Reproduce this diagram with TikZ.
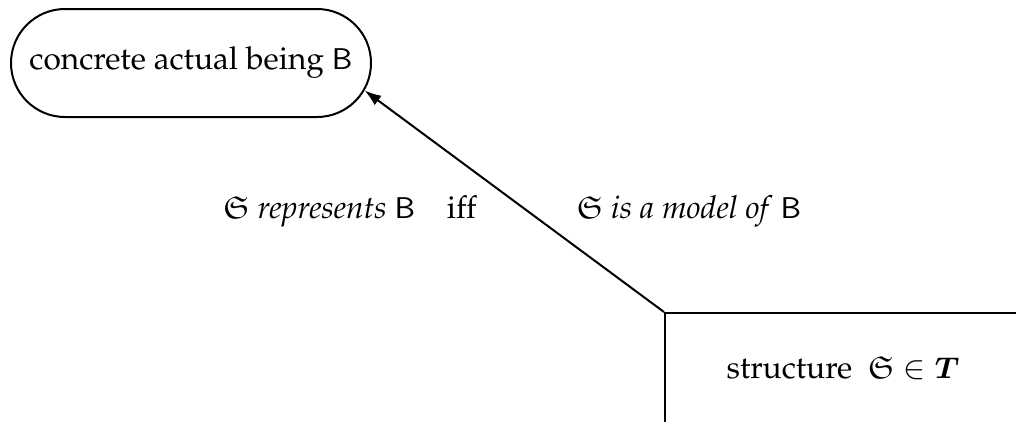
\documentclass[tikz,border=0pt]{standalone}
\usepackage{amsmath,amssymb,bm}
\usepackage[T1]{fontenc}
\usepackage{mathpazo}
\usetikzlibrary{shapes.misc,arrows.meta}
\begin{document}
\begin{tikzpicture}[x=0.3pt,y=-0.3pt,line width=0.6pt,
  every node/.style={font=\fontsize{9.5pt}{11pt}\selectfont},
  roundbox/.style={draw,rounded rectangle,minimum width=108pt,minimum height=32.4pt,inner sep=0pt},
  sqbox/.style={draw,rectangle,minimum width=106.8pt,minimum height=33pt,inner sep=0pt},
  lbl/.style={inner sep=0pt,anchor=base}]
\useasboundingbox (0,0) rectangle (1016,421);
\clip (0,0) rectangle (1016,421);
\node[roundbox] (cb) at (191,63) {concrete actual being $\mathsf{B}$};
\node[sqbox] (st) at (843,368) {structure\ \ $\mathfrak{S}\in\bm{T}$};
\node[lbl] (l1) at (350,218) {$\mathfrak{S}$ \emph{represents} $\mathsf{B}$\quad iff};
\node[lbl] (l2) at (689,218) {$\mathfrak{S}$ \emph{is a model of} $\mathsf{B}$};
\draw[-{Latex[length=5pt,width=3.5pt]}] (st.north west) -- (cb.-9);
\end{tikzpicture}
\end{document}
